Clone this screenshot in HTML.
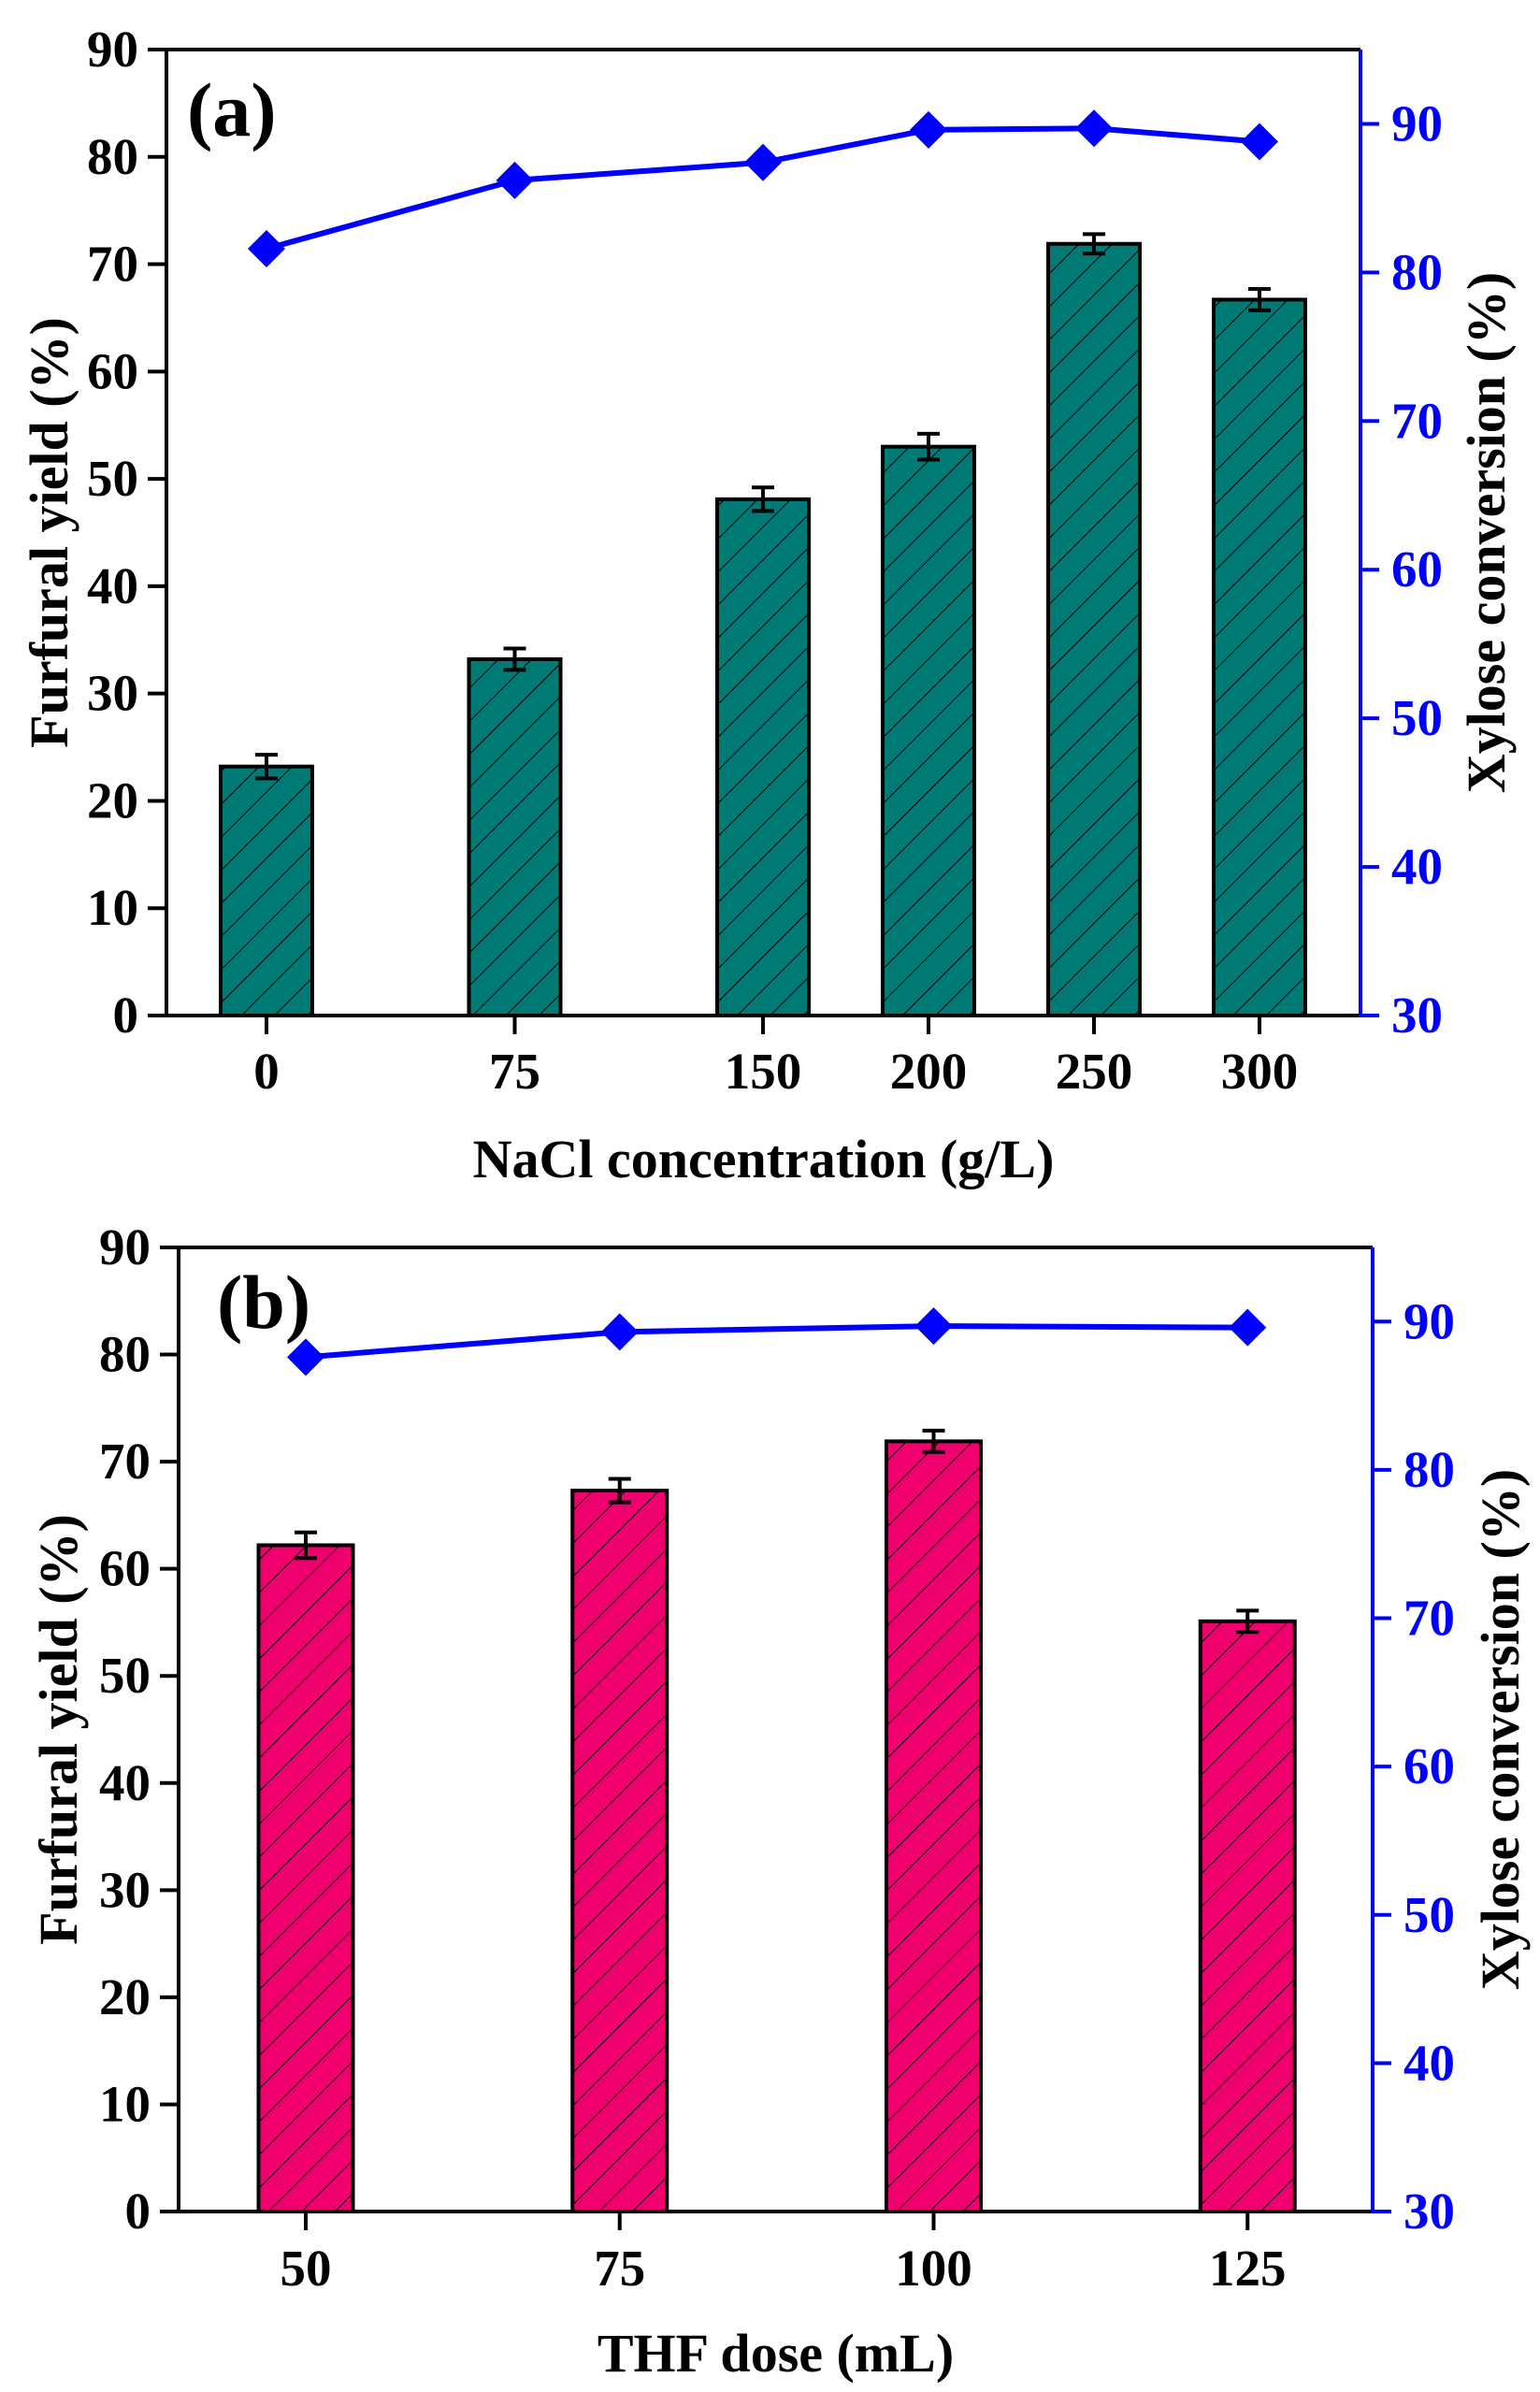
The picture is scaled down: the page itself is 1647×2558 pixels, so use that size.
<!DOCTYPE html>
<html><head><meta charset="utf-8"><style>
html,body{margin:0;padding:0;background:#fff;}
svg{display:block;font-family:"Liberation Serif",serif;font-weight:bold;}
</style></head><body>
<svg id="s" width="1647" height="2558" viewBox="0 0 1647 2558">
<defs>
<pattern id="hatch" patternUnits="userSpaceOnUse" width="25" height="25" patternTransform="rotate(45)">
<line x1="0" y1="0" x2="0" y2="25" stroke="#000" stroke-width="2"/>
</pattern>
</defs>
</svg>
<script>
// Panel (a) data
const catsA = [0, 75, 150, 200, 250, 300];
const yieldA = [23.2, 33.2, 48.1, 53.0, 71.9, 66.7];
const errA = [1.1, 1.0, 1.1, 1.2, 0.9, 1.0];
const convA = [81.6, 86.2, 87.4, 89.6, 89.7, 88.8];
// Panel (b) data
const catsB = [50, 75, 100, 125];
const yieldB = [62.2, 67.3, 71.9, 55.1];
const errB = [1.2, 1.1, 1.0, 1.0];
const convB = [87.6, 89.3, 89.7, 89.6];
const leftTicks = [0, 10, 20, 30, 40, 50, 60, 70, 80, 90];
const rightTicks = [30, 40, 50, 60, 70, 80, 90];

const NS = "http://www.w3.org/2000/svg";
const svg = document.getElementById('s');
function mk(tag, attrs, parent, text) {
  const e = document.createElementNS(NS, tag);
  for (const k in attrs) e.setAttribute(k, attrs[k]);
  if (text !== undefined) e.textContent = text;
  (parent || svg).appendChild(e);
  return e;
}

function panel(cfg) {
  const g = mk('g', {});
  
  
  const L = cfg.L, R = cfg.R, T = cfg.T, B = cfg.B;
  const yL = v => B - (v / 90) * (B - T);
  const yR = v => B - ((v - 30) / 65) * (B - T);
  const x = cfg.x;
  cfg.cats.forEach((c, i) => {
    const cx = x(c), top = yL(cfg.yield[i]), w = cfg.bw;
    const bg = mk('g', {}, g);
    
    
    mk('rect', {x: cx - w/2, y: top, width: w, height: B - top, fill: cfg.color}, bg);
    mk('rect', {x: cx - w/2, y: top, width: w, height: B - top, fill: 'url(#hatch)'}, bg);
    mk('rect', {x: cx - w/2, y: top, width: w, height: B - top, fill: 'none', stroke: '#000', 'stroke-width': 4}, bg);
    const e1 = yL(cfg.yield[i] + cfg.err[i]), e2 = yL(cfg.yield[i] - cfg.err[i]);
    const eb = mk('g', {stroke: '#000', 'stroke-width': 4}, g);
    
    
    mk('line', {x1: cx, y1: e1, x2: cx, y2: e2}, eb);
    mk('line', {x1: cx - 12, y1: e1, x2: cx + 12, y2: e1}, eb);
    mk('line', {x1: cx - 12, y1: e2, x2: cx + 12, y2: e2}, eb);
  });
  const pts = cfg.cats.map((c, i) => x(c) + ',' + yR(cfg.conv[i])).join(' ');
  const pl = mk('polyline', {points: pts, fill: 'none', stroke: '#0000ff', 'stroke-width': 6}, g);
  
  
  cfg.cats.forEach((c, i) => {
    const cx = x(c), cy = yR(cfg.conv[i]), r = 20;
    const d = mk('polygon', {points: `${cx},${cy-r} ${cx+r},${cy} ${cx},${cy+r} ${cx-r},${cy}`, fill: '#0000ff'}, g);
    
    
  });
  mk('line', {x1: L, y1: T, x2: R, y2: T, stroke: '#000', 'stroke-width': 4}, g);
  mk('line', {x1: L, y1: T - 2, x2: L, y2: B + 2, stroke: '#000', 'stroke-width': 4}, g);
  mk('line', {x1: L, y1: B, x2: R, y2: B, stroke: '#000', 'stroke-width': 4}, g);
  mk('line', {x1: R, y1: T, x2: R, y2: B + 2, stroke: '#0000ff', 'stroke-width': 4}, g);
  leftTicks.forEach(v => {
    mk('line', {x1: L - 20, y1: yL(v), x2: L, y2: yL(v), stroke: '#000', 'stroke-width': 4}, g);
    const t = mk('text', {x: L - 30, y: yL(v) + 18, 'text-anchor': 'end', 'font-size': 55, fill: '#000'}, g, v);
    
    
  });
  rightTicks.forEach(v => {
    mk('line', {x1: R, y1: yR(v), x2: R + 20, y2: yR(v), stroke: '#0000ff', 'stroke-width': 4}, g);
    const t = mk('text', {x: R + 33, y: yR(v) + 18, 'font-size': 55, fill: '#0000ff'}, g, v);
    
    
  });
  cfg.cats.forEach(c => {
    mk('line', {x1: x(c), y1: B, x2: x(c), y2: B + 20, stroke: '#000', 'stroke-width': 4}, g);
    const t = mk('text', {x: x(c), y: cfg.xlabY, 'text-anchor': 'middle', 'font-size': 55, fill: '#000'}, g, c);
    
    
  });
  const xt = mk('text', {x: (L + R) / 2, y: cfg.xtitleY, 'text-anchor': 'middle', 'font-size': 58, fill: '#000'}, g, cfg.xtitle);
  
  
  const mid = (T + B) / 2;
  const lt = mk('text', {x: 0, y: 0, transform: `translate(${cfg.ltX},${mid}) rotate(-90)`, 'text-anchor': 'middle', 'font-size': 58, fill: '#000'}, g, 'Furfural yield (%)');
  
  
  const rt = mk('text', {x: 0, y: 0, transform: `translate(${cfg.rtX},${mid}) rotate(-90)`, 'text-anchor': 'middle', 'font-size': 58, fill: '#000'}, g, 'Xylose conversion (%)');
  
  
  const pt = mk('text', {x: cfg.plX, y: cfg.plY, 'font-size': 82, fill: '#000'}, g, cfg.plabel);
  
  
}

panel({name: 'chart-a-nacl', L: 178, R: 1455, T: 53, B: 1086,
  x: v => 285 + v * 3.54, bw: 98, color: '#007a74',
  cats: catsA, yield: yieldA, err: errA, conv: convA,
  xlabY: 1164, xtitleY: 1259, xtitle: 'NaCl concentration (g/L)',
  ltX: 72, rtX: 1609, plX: 200, plY: 145, plabel: '(a)'});
panel({name: 'chart-b-thf', L: 191, R: 1468, T: 1334, B: 2365,
  x: v => 327 + (v - 50) * 13.43, bw: 101, color: '#f0006e',
  cats: catsB, yield: yieldB, err: errB, conv: convB,
  xlabY: 2444, xtitleY: 2536, xtitle: 'THF dose (mL)',
  ltX: 82, rtX: 1624, plX: 232, plY: 1420, plabel: '(b)'});
</script>
</body></html>
